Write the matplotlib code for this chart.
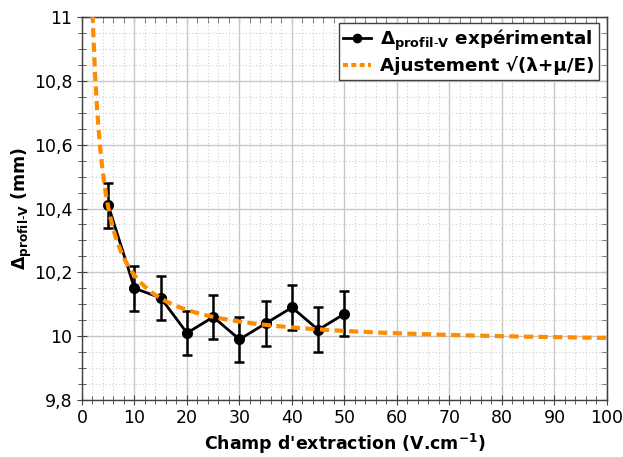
import numpy as np
import matplotlib
matplotlib.use("Agg")
import matplotlib.pyplot as plt
from matplotlib.ticker import MultipleLocator, FuncFormatter
from matplotlib.lines import Line2D

# champ d'extraction (V/cm) et largeur mesuree (mm)
champ = [5, 10, 15, 20, 25, 30, 35, 40, 45, 50]
delta = [10.41, 10.15, 10.12, 10.01, 10.06, 9.99, 10.04, 10.09, 10.02, 10.07]
erreur = [0.07, 0.07, 0.07, 0.07, 0.07, 0.07, 0.07, 0.07, 0.07, 0.07]

# parametres de l'ajustement sqrt(lambda + mu/E)
lam = 99.45
mu = 44.0

plt.rcParams['font.family'] = 'DejaVu Sans'
plt.rcParams['mathtext.fontset'] = 'dejavusans'
plt.rcParams['mathtext.default'] = 'bf'

fig = plt.figure(figsize=(6.23, 4.57), dpi=100)
ax = fig.add_axes([0.1316, 0.1247, 0.9743 - 0.1316, 0.9628 - 0.1247])

E = np.linspace(1.5, 100, 600)
ajust = np.sqrt(lam + mu / E)

orange = "#ff8c00"
ax.errorbar(champ, delta, yerr=erreur, color="black", lw=2, marker="o", ms=7,
            capsize=3.5, elinewidth=1.8, capthick=1.8, zorder=3)
ax.plot(E, ajust, color=orange, lw=3, ls=(0, (2.2, 1.3)), zorder=4)

ax.set_xlim(0, 100)
ax.set_ylim(9.8, 11)
ax.xaxis.set_major_locator(MultipleLocator(10))
ax.xaxis.set_minor_locator(MultipleLocator(2))
ax.yaxis.set_major_locator(MultipleLocator(0.2))
ax.yaxis.set_minor_locator(MultipleLocator(0.05))
ax.yaxis.set_major_formatter(FuncFormatter(lambda v, p: ("%g" % round(v, 2)).replace(".", ",")))

ax.grid(which="major", color="#c8c8c8", lw=1, ls="-")
ax.grid(which="minor", color="#d0d0d0", lw=0.8, ls=(0, (1, 2)))
ax.set_axisbelow(True)

for s in ax.spines.values():
    s.set_color("#404040")
    s.set_linewidth(1)

ax.tick_params(which="both", direction="inout", colors="#404040", labelcolor="black",
               labelsize=12.5)
ax.tick_params(which="major", length=6.5)
ax.tick_params(which="minor", length=5.5)

# graduations interieures en haut et a droite
top = ax.secondary_xaxis("top")
top.xaxis.set_major_locator(MultipleLocator(10))
top.xaxis.set_minor_locator(MultipleLocator(2))
right = ax.secondary_yaxis("right")
right.yaxis.set_major_locator(MultipleLocator(0.2))
right.yaxis.set_minor_locator(MultipleLocator(0.05))
for sec in (top, right):
    sec.tick_params(which="both", direction="in", length=4, colors="#404040",
                    labelleft=False, labelright=False, labeltop=False, labelbottom=False)

ax.set_xlabel(r"Champ d'extraction (V.cm$^{-1}$)", fontsize=12.5, fontweight="bold", labelpad=3)
ax.set_ylabel(r'$\Delta_{profil\text{-}V}$ (mm)', fontsize=12.5, fontweight="bold", labelpad=0)

handles = [Line2D([], [], color="black", lw=2, marker="o", ms=6),
           Line2D([], [], color=orange, lw=3, ls=(0, (1.2, 0.8)))]
labels = [r'$\Delta_{profil\text{-}V}$ expérimental', 'Ajustement √(λ+μ/E)']
leg = ax.legend(handles, labels, loc="upper right", bbox_to_anchor=(0.985, 0.985), fancybox=False,
                framealpha=1, edgecolor="#404040", borderaxespad=0,
                prop={"weight": "bold", "size": 13.2}, handlelength=1.5,
                handletextpad=0.5, borderpad=0.25, labelspacing=0.2)
leg.get_frame().set_linewidth(1)

fig.savefig("out.png", dpi=100)
